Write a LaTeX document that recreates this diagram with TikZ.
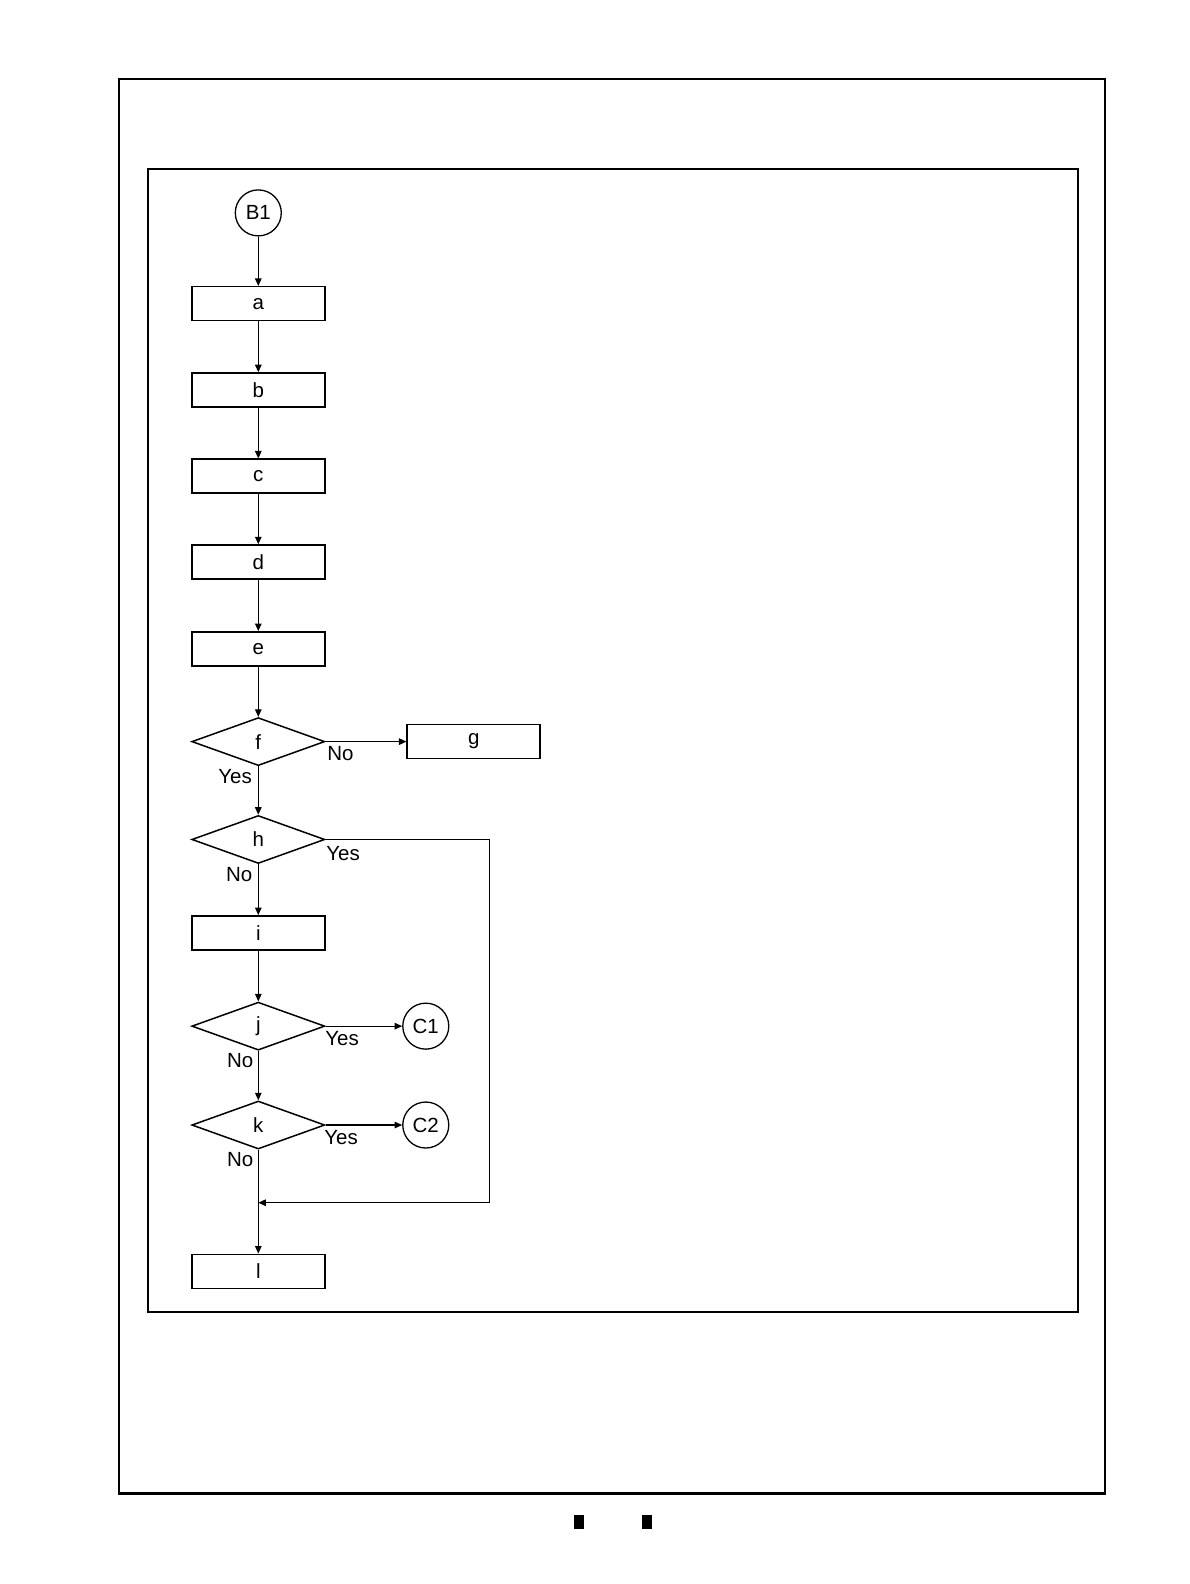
\documentclass[tikz,border=0pt]{standalone}
\usepackage{fontspec}
\setmainfont{Liberation Sans}
\usetikzlibrary{shapes.geometric,arrows.meta}
\begin{document}
\begin{tikzpicture}[x=1.009pt,y=-1.009pt,
  font=\fontsize{20.5}{23}\selectfont,
  flow/.style={line width=1.2pt},
  arr/.style={flow,-{Triangle[length=7.5pt,width=6.5pt]}},
  stepbox/.style={draw,line width=1.5pt,minimum width=133pt,minimum height=34pt,inner sep=0pt},
  decide/.style={draw,diamond,line width=1.5pt,minimum width=133pt,minimum height=48pt,inner sep=0pt},
  conn/.style={draw,circle,line width=1.3pt,minimum size=46pt,inner sep=0pt},
  lbl/.style={inner sep=0pt}]
\useasboundingbox (0,0) rectangle (1179.4,1569.9);
\fill[white] (0,0) rectangle (1179.4,1569.9);
% frames
\draw[line width=2.4pt] (118,78) rectangle (1095,1480);
\draw[line width=2pt] (147,167) rectangle (1068,1300);
% marks
\fill[black] (569,1501) rectangle (578.5,1515);
\fill[black] (636.5,1501) rectangle (646,1515);
% nodes
\node[conn] (B1) at (256,211) {B1};
\node[stepbox] (a) at (256,301) {a};
\node[stepbox] (b) at (256,386.5) {b};
\node[stepbox] (c) at (256,472) {c};
\node[stepbox] (d) at (256,557) {d};
\node[stepbox] (e) at (256,643) {e};
\node[decide] (f) at (256,735) {f};
\node[stepbox] (g) at (469.5,735) {g};
\node[decide] (h) at (256,832) {h};
\node[stepbox] (i) at (256,924.5) {i};
\node[decide] (j) at (256,1017) {j};
\node[conn] (C1) at (422,1017) {C1};
\node[decide] (k) at (256,1115) {k};
\node[conn] (C2) at (422,1115) {C2};
\node[stepbox] (l) at (256,1260) {l};
\coordinate (hr) at (485,832);
\coordinate (jn) at (256,1192);
% connectors
\draw[arr] (B1) -- (a);
\draw[arr] (a) -- (b);
\draw[arr] (b) -- (c);
\draw[arr] (c) -- (d);
\draw[arr] (d) -- (e);
\draw[arr] (e) -- (f);
\draw[arr] (f.east) -- (g.west);
\draw[arr] (f.south) -- (h.north);
\draw[arr] (h.south) -- (i);
\draw[arr] (i) -- (j.north);
\draw[arr] (j.east) -- (C1);
\draw[arr] (j.south) -- (k.north);
\draw[arr] (k.east) -- (C2);
\draw[arr] (k.south) -- (l);
\draw[flow] (h.east) -- (hr);
\draw[arr] (hr) |- (jn);
% labels
\node[lbl] (fno) at (337.5,746.5) {No};
\node[lbl] (fyes) at (233,769.5) {Yes};
\node[lbl] (hyes) at (340,845.5) {Yes};
\node[lbl] (hno) at (237,866.5) {No};
\node[lbl] (jyes) at (339,1029.5) {Yes};
\node[lbl] (jno) at (238,1051) {No};
\node[lbl] (kyes) at (338,1127.5) {Yes};
\node[lbl] (kno) at (238,1149.5) {No};
\end{tikzpicture}
\end{document}
